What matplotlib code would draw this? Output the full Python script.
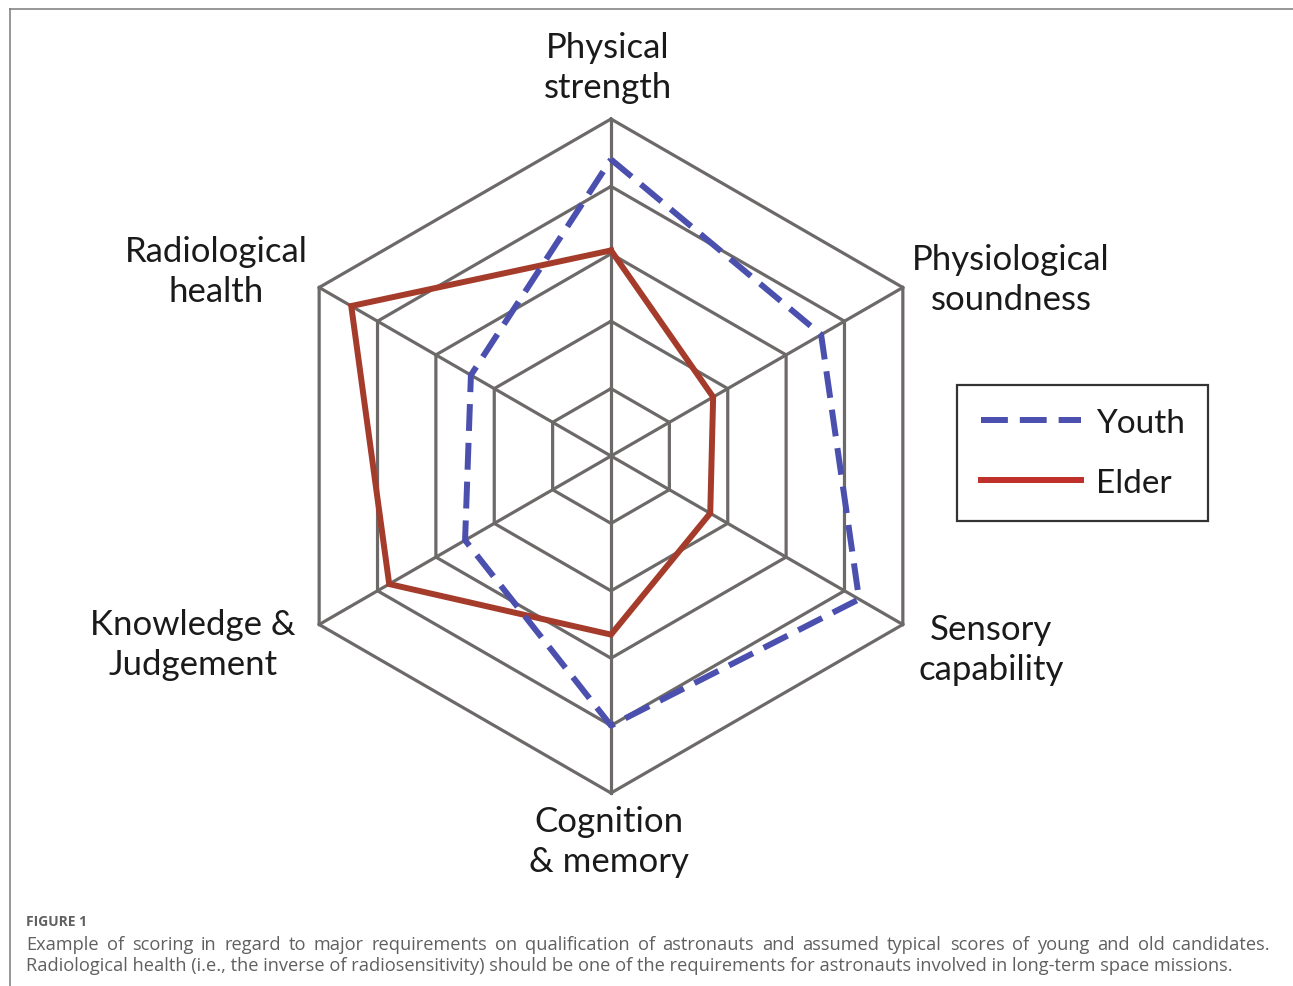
import numpy as np
import matplotlib
matplotlib.use("Agg")
import matplotlib.pyplot as plt
from matplotlib.lines import Line2D

# --- Data ---
categories = ["Physical\nstrength", "Physiological\nsoundness", "Sensory\ncapability",
              "Cognition\n& memory", "Knowledge &\nJudgement", "Radiological\nhealth"]
youth = [4.4, 3.6, 4.25, 4.0, 2.5, 2.4]
elder = [3.05, 1.75, 1.7, 2.65, 3.8, 4.45]
ring_levels = [1, 2, 3, 4, 5]
series_names = ["Youth", "Elder"]

caption_title = "FIGURE 1"
caption_line1 = ("Example of scoring in regard to major requirements on qualification of "
                 "astronauts and assumed typical scores of young and old candidates.")
caption_line2 = ("Radiological health (i.e., the inverse of radiosensitivity) should be one of "
                 "the requirements for astronauts involved in long-term space missions.")

# --- Figure setup ---
W, H = 1293, 987
fig = plt.figure(figsize=(W / 100, H / 100), dpi=100)
fig.patch.set_facecolor("white")

grid_color = "#6d6969"
youth_color = "#4b4fae"
elder_color = "#a53c2b"
label_font = "Lato"

# polar axes centred at (611, 457) px, outer ring radius 337 px
rmax = 5.3
cx, cy, R = 611, 457, 337 * rmax / 5
ax = fig.add_axes([(cx - R) / W, (H - cy - R) / H, 2 * R / W, 2 * R / H], projection="polar")
ax.set_theta_offset(np.pi / 2)
ax.set_theta_direction(-1)
ax.set_ylim(0, rmax)
ax.grid(False)
ax.set_xticks([])
ax.set_yticks([])
ax.spines["polar"].set_visible(False)
ax.patch.set_alpha(0)

n = len(categories)
angles = np.linspace(0, 2 * np.pi, n, endpoint=False)
closed = np.concatenate([angles, angles[:1]])

# hexagon rings and spokes
for lvl in ring_levels:
    ax.plot(closed, [lvl] * (n + 1), color=grid_color, lw=2.3, solid_joinstyle="miter", zorder=1)
for a in angles:
    ax.plot([a, a], [0, ring_levels[-1]], color=grid_color, lw=2.3, zorder=1)

# series
ax.plot(closed, youth + youth[:1], color=youth_color, lw=4.3, ls=(0, (4.5, 2.0)),
        dash_capstyle="butt", zorder=3)
ax.plot(closed, elder + elder[:1], color=elder_color, lw=4.3, solid_joinstyle="miter", zorder=2)

# axis labels
label_pos = [(608, 68), (1011, 280), (991, 650), (609, 842), (193, 645), (216, 272)]
for txt, (x, y) in zip(categories, label_pos):
    fig.text(x / W, 1 - y / H, txt, ha="center", va="center", fontsize=25,
             family=label_font, color="#1a1a1a", linespacing=1.32)

# legend
handles = [Line2D([], [], color=youth_color, lw=4.3, ls=(0, (4.5, 2.0)), dash_capstyle="butt"),
           Line2D([], [], color="#c0302a", lw=4.3)]
leg = fig.legend(handles, series_names, loc="center",
                 bbox_to_anchor=(1082.5 / W, 1 - 454 / H),
                 prop={"family": label_font, "size": 24}, handlelength=3.0,
                 handletextpad=0.45, labelspacing=0.9, borderpad=0.7, borderaxespad=0,
                 fancybox=False, frameon=True, edgecolor="black")
leg.get_frame().set_linewidth(1.6)
for t in leg.get_texts():
    t.set_color("#1a1a1a")

# outer frame lines (top and left)
fig.add_artist(Line2D([9.5 / W, 1], [1 - 9.5 / H] * 2, color="#7a7a7a", lw=1.1,
                      transform=fig.transFigure))
fig.add_artist(Line2D([9.5 / W] * 2, [1 - 9.5 / H, 0], color="#7a7a7a", lw=1.1,
                      transform=fig.transFigure))

# caption
cap_color = "#606060"
fig.text(26.5 / W, 1 - 926.5 / H, caption_title, ha="left", va="baseline",
         fontsize=10, family="Open Sans", weight="bold", color=cap_color)

renderer = fig.canvas.get_renderer()


def justify_line(text, x0, x1, y, **kw):
    words = text.split()
    arts = [fig.text(0, y, w, ha="left", va="baseline", **kw) for w in words]
    widths = [a.get_window_extent(renderer).width for a in arts]
    gap = ((x1 - x0) - sum(widths)) / (len(words) - 1)
    x = x0
    for a, w in zip(arts, widths):
        a.set_x(x / W)
        x += w + gap


cap_kw = dict(fontsize=13.15, family="Open Sans", color=cap_color)
justify_line(caption_line1, 26.5, 1270, 1 - 950 / H, **cap_kw)
fig.text(26.5 / W, 1 - 971 / H, caption_line2, ha="left", va="baseline", **cap_kw)

fig.savefig("out.png", dpi=100, facecolor="white")
